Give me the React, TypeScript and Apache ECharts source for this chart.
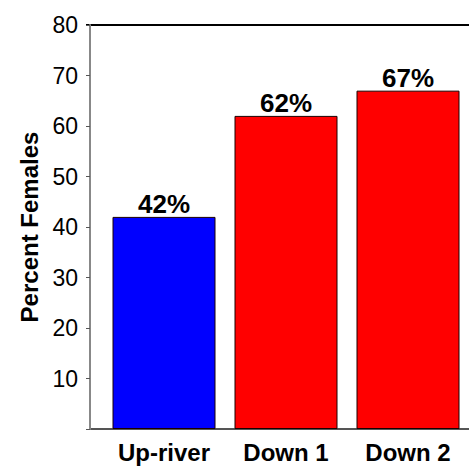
import React, { useEffect, useRef } from "react";
import * as echarts from "echarts";

const categories = ["Up-river", "Down 1", "Down 2"];
const percentFemales = [42, 62, 67];
const barColors = ["#0000ff", "#ff0000", "#ff0000"];
const yTicks = [10, 20, 30, 40, 50, 60, 70, 80];

const FONT = "'Liberation Sans', Arial, Helvetica, sans-serif";

export default function App() {
  const ref = useRef<HTMLDivElement>(null);
  useEffect(() => {
    if (!ref.current) return;
    const chart = echarts.init(ref.current, undefined, { renderer: "svg" });
    const gridLeft = 103;
    const gridTop = 25;
    const gridBottom = 39;
    const H = 468;
    const W = 469;
    const axisX = 90;
    chart.setOption({
      animation: false,
      backgroundColor: "#ffffff",
      grid: { left: gridLeft, right: 0, top: gridTop, bottom: gridBottom, containLabel: false },
      xAxis: {
        type: "category",
        data: categories,
        axisLine: { show: true, lineStyle: { color: "#555555", width: 2 } },
        axisTick: { show: false },
        axisLabel: {
          color: "#000",
          fontFamily: FONT,
          fontWeight: "bold",
          fontSize: 24,
          margin: 11,
        },
      },
      yAxis: {
        type: "value",
        min: 0,
        max: 80,
        interval: 10,
        offset: gridLeft - axisX,
        name: "Percent Females",
        nameLocation: "middle",
        nameGap: 42,
        nameRotate: 90,
        nameTextStyle: {
          color: "#000",
          fontFamily: FONT,
          fontWeight: "bold",
          fontSize: 24,
        },
        axisLine: { show: true, lineStyle: { color: "#888888", width: 2 } },
        axisTick: { show: true, length: 4, lineStyle: { color: "#555555", width: 1 } },
        splitLine: { show: false },
        axisLabel: {
          color: "#000",
          fontFamily: FONT,
          fontSize: 23,
          margin: 12,
          formatter: (v: number) => (yTicks.includes(v) ? String(v) : ""),
        },
      },
      series: [
        {
          type: "bar",
          barWidth: 103,
          data: percentFemales.map((v, i) => ({
            value: v,
            itemStyle: { color: barColors[i], borderColor: "#1a0000", borderWidth: 1 },
          })),
          label: {
            show: true,
            position: "top",
            distance: 0,
            color: "#000",
            fontFamily: FONT,
            fontWeight: "bold",
            fontSize: 26,
            formatter: (p: any) => `${p.value}%`,
          },
        },
      ],
      graphic: [
        {
          type: "line",
          shape: { x1: axisX - 4, y1: gridTop, x2: W, y2: gridTop },
          style: { stroke: "#000", lineWidth: 2 },
          silent: true,
        },
        {
          type: "line",
          shape: { x1: axisX, y1: H - gridBottom, x2: gridLeft, y2: H - gridBottom },
          style: { stroke: "#555555", lineWidth: 2 },
          silent: true,
        },
      ],
    });
    return () => chart.dispose();
  }, []);
  return (
    <div
      ref={ref}
      style={{ position: "fixed", left: 0, top: 0, width: 469, height: 468, background: "#fff" }}
    />
  );
}
